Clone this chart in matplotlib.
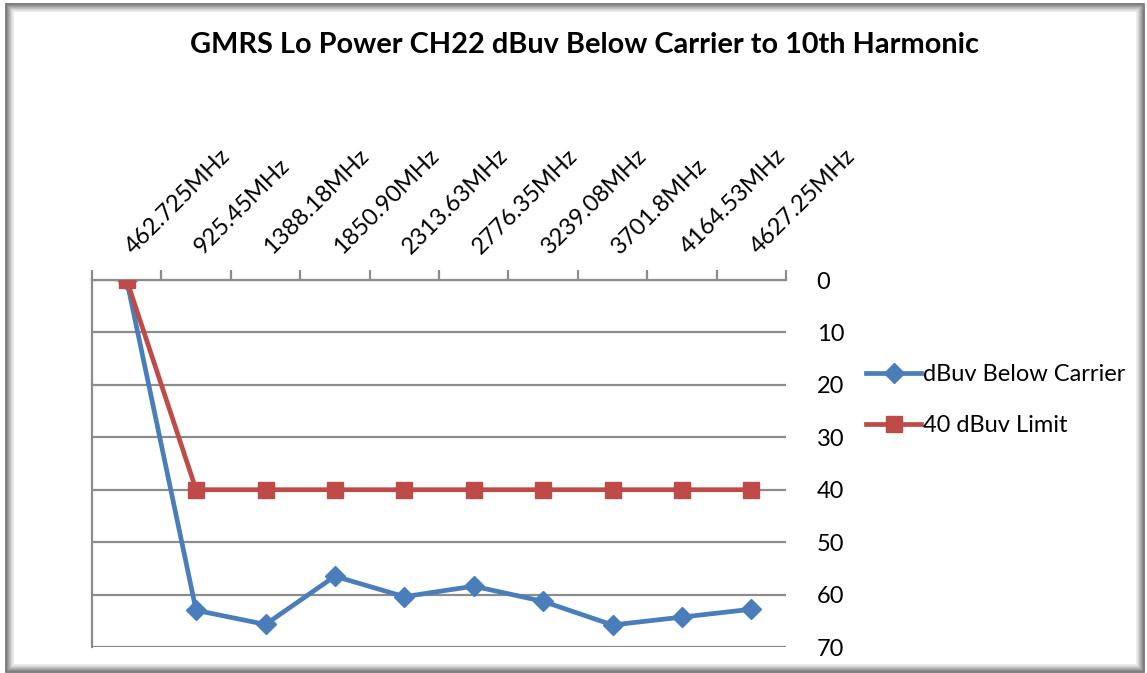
import matplotlib
matplotlib.use("Agg")
import matplotlib.pyplot as plt
from matplotlib.patches import Rectangle
from matplotlib.lines import Line2D
from matplotlib.transforms import ScaledTranslation

categories = ["462.725MHz", "925.45MHz", "1388.18MHz", "1850.90MHz", "2313.63MHz",
              "2776.35MHz", "3239.08MHz", "3701.8MHz", "4164.53MHz", "4627.25MHz"]
below_carrier = [0, 63, 65.7, 56.5, 60.4, 58.4, 61.3, 65.8, 64.3, 62.8]
limit = [0, 40, 40, 40, 40, 40, 40, 40, 40, 40]
yticks = [0, 10, 20, 30, 40, 50, 60, 70]

plt.rcParams['font.family'] = ['Lato', 'DejaVu Sans']

W, H = 1147, 673
fig = plt.figure(figsize=(W / 100, H / 100), dpi=100)

# frame with soft shadow (dark outside, fading inward)
for i in range(8):
    g = 0.42 + i * 0.07
    fig.patches.append(Rectangle(((6 + i) / W, (1 + i) / H), (1138 - 2 * i) / W, (668 - 2 * i) / H,
                                 transform=fig.transFigure, fill=False, zorder=-5,
                                 edgecolor=(g, g, g), linewidth=1.2))

ax = fig.add_axes([92 / W, 1 - 647 / H, (786 - 92) / W, (647 - 280) / H])
ax.set_facecolor("none")
x = list(range(len(categories)))

blue = "#4A7EBB"
red = "#BE4B48"
ax.plot(x, below_carrier, color=blue, lw=3.4, marker="D", ms=10, mec=blue, mfc=blue,
        label="dBuv Below Carrier", zorder=2, solid_joinstyle="round")
ax.plot(x, limit, color=red, lw=3.4, marker="s", ms=12, mec=red, mfc=red,
        label="40 dBuv Limit", zorder=3, solid_joinstyle="round")

ax.set_xlim(-0.5, len(categories) - 0.5)
ax.set_ylim(70, 0)

fs = 17
# value axis on right, no tick marks
ax.set_yticks(yticks)
ax.yaxis.tick_right()
ax.tick_params(axis="y", which="major", length=0, pad=22, labelsize=fs, labelcolor="black")
ax.yaxis.grid(True, color="#8c8c8c", lw=1.6)
ax.set_axisbelow(True)

# left short ticks (gridline extensions)
ax.set_yticks(yticks, minor=True)
ax.tick_params(axis="y", which="minor", left=True, right=False, length=8, width=1.6,
               color="#8c8c8c", direction="out")

# category axis at top
ax.xaxis.tick_top()
ax.set_xticks(x)
ax.set_xticklabels(categories, rotation=45, ha="left", va="baseline", rotation_mode="anchor")
ax.tick_params(axis="x", which="major", length=0, pad=18, labelsize=fs)
ax.set_xticks([i - 0.5 for i in range(len(categories) + 1)], minor=True)
ax.tick_params(axis="x", which="minor", top=True, bottom=False, length=7, width=1.6,
               color="#8c8c8c", direction="out")
offset = ScaledTranslation(7 / 100, 0, fig.dpi_scale_trans)
for lbl in ax.get_xticklabels():
    lbl.set_transform(lbl.get_transform() + offset)

for s in ["right", "bottom"]:
    ax.spines[s].set_visible(False)
ax.spines["left"].set_color("#8c8c8c")
ax.spines["left"].set_linewidth(1.6)
ax.spines["top"].set_color("#8c8c8c")
ax.spines["top"].set_linewidth(1.6)

fig.text(584 / W, 1 - 45 / H, "GMRS Lo Power CH22 dBuv Below Carrier to 10th Harmonic",
         ha="center", va="center", fontsize=20.8, fontweight="bold")

leg = fig.legend(handles=[Line2D([], [], color=blue, lw=3.4, marker="D", ms=10),
                          Line2D([], [], color=red, lw=3.4, marker="s", ms=12)],
                 labels=["dBuv Below Carrier", "40 dBuv Limit"],
                 loc="upper left", bbox_to_anchor=(866 / W, 1 - 364 / H), frameon=False,
                 fontsize=fs, handlelength=2.35, handletextpad=0.08, labelspacing=1.28,
                 borderaxespad=0, borderpad=0)

fig.savefig("out.png", dpi=100)
